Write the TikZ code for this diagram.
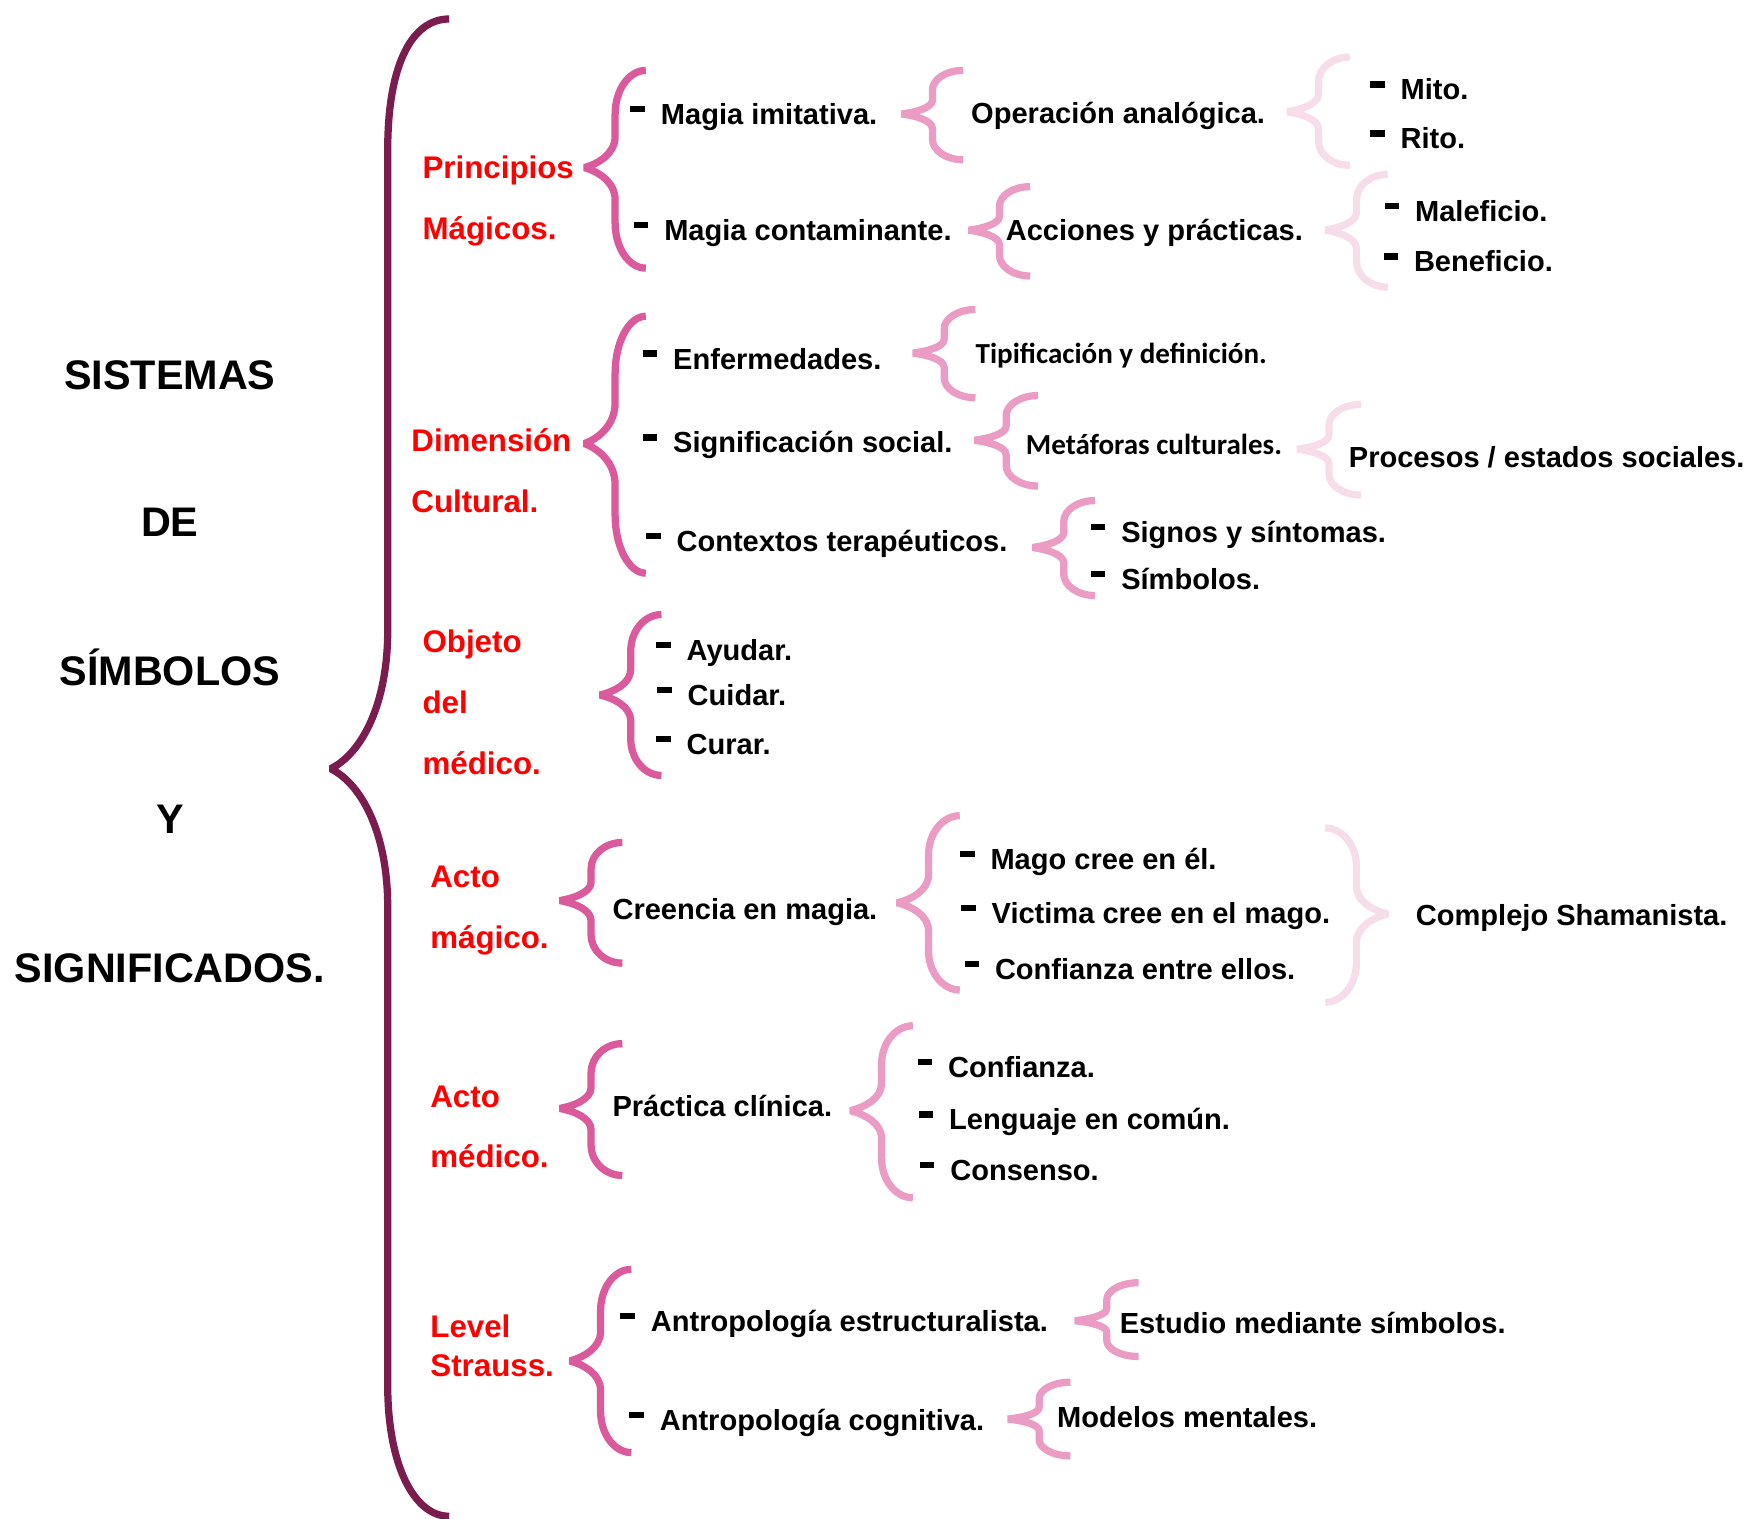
\documentclass[tikz,border=0pt]{standalone}
\usepackage{fontspec}
\setmainfont{Liberation Sans}
\newfontfamily\calibri{Carlito}
\definecolor{llaveppal}{HTML}{7B1C4E}
\definecolor{llaveA}{HTML}{DB5A9B}
\definecolor{llaveB}{HTML}{EA9CC5}
\definecolor{llaveC}{HTML}{F7DDEA}
\definecolor{rojo}{HTML}{FF0000}
\newcommand{\guion}{\rule[0.42em]{0.5em}{0.22em}\hspace{0.55em}}
% llave: color, punta x, punta y, extremo x, arriba y, abajo y
\newcommand{\llave}[6]{%
	\pgfmathsetmacro\bsx{(#2+#4)/2}%
	\pgfmathsetmacro\bhw{(#4-#2)/2}%
	\pgfmathsetmacro\bha{0.45*(#3-#5)}%
	\pgfmathsetmacro\bhb{0.32*(#3-#5)}%
	\pgfmathsetmacro\bla{0.45*(#6-#3)}%
	\pgfmathsetmacro\blb{0.32*(#6-#3)}%
	\draw[#1, line width = 6.5pt, line join = bevel] (#4, #5) .. controls ({#4-0.55*\bhw}, #5) and (\bsx, {#5+0.45*\bha}) .. (\bsx, {#5+\bha})
		-- (\bsx, {#3-\bhb}) .. controls (\bsx, {#3-0.45*\bhb}) and ({#2+0.45*\bhw}, {#3-0.12*\bhb}) .. (#2, #3)
		.. controls ({#2+0.45*\bhw}, {#3+0.12*\blb}) and (\bsx, {#3+0.45*\blb}) .. (\bsx, {#3+\blb})
		-- (\bsx, {#6-\bla}) .. controls (\bsx, {#6-0.45*\bla}) and ({#4-0.55*\bhw}, #6) .. (#4, #6);}

\begin{document}
\begin{tikzpicture}[x = 1pt, y = -1pt,
	titulo/.style = {font = \fontsize{37}{40}\selectfont\bfseries, text height = 26.5pt, text depth = 0pt, inner sep = 0pt},
	rubro/.style = {font = \fontsize{28}{30}\selectfont\bfseries, text = rojo, anchor = west, text height = 20pt, text depth = 0pt, inner sep = 0pt},
	texto/.style = {font = \fontsize{26}{28}\selectfont\bfseries, anchor = west, text height = 18.6pt, text depth = 0pt, inner sep = 0pt},
	calib/.style = {texto, font = \fontsize{26}{28}\selectfont\calibri\bfseries, text height = 17pt}]
	\useasboundingbox (0, 0) rectangle (1568, 1359);
	% llave grande
	\draw[llaveppal, line width = 6.5pt, line join = bevel] (402, 17) .. controls (370, 17) and (347, 55) .. (347, 134) -- (347, 564)
		.. controls (347, 630) and (324, 674) .. (296, 688) .. controls (324, 702) and (347, 746) .. (347, 812)
		-- (347, 1240) .. controls (347, 1310) and (370, 1357) .. (402, 1357);
	% llaves
	\foreach \tx/\ty/\ex/\yt/\yb in {523/150/578/63/240, 523/397/578/283/513, 537/622/592/550/694,
		501/806/557/754/862, 501/992/557/934/1052, 510/1218/565/1136/1300}{
		\llave{llaveA}{\tx}{\ty}{\ex}{\yt}{\yb}}
	\foreach \tx/\ty/\ex/\yt/\yb in {807/102/862/63/143, 867/206/922/167/247, 817/316/873/277/356,
		872/394/929/354/435, 924/490/980/448/533, 803/808/859/730/886, 761/994/817/918/1072,
		962/1182/1019/1148/1214, 902/1270/958/1237/1303}{
		\llave{llaveB}{\tx}{\ty}{\ex}{\yt}{\yb}}
	\foreach \tx/\ty/\ex/\yt/\yb in {1152/100/1208/51/148, 1186/206/1242/156/257, 1161/402/1218/362/443,
		1242/818/1186/741/897}{
		\llave{llaveC}{\tx}{\ty}{\ex}{\yt}{\yb}}
	% titulo
	\foreach \n/\x/\y/\t in {tS/152/335/SISTEMAS, tD/152/467/DE, tSi/152/600/SÍMBOLOS, tY/152/733/Y, tSg/152/866/SIGNIFICADOS.}{
		\node[titulo] (\n) at (\x, \y) {\t};}
	% rubros
	\foreach \n/\x/\y/\t in {pm1/378/150/Principios, pm2/378/204/Mágicos., dc1/368/394/Dimensión, dc2/368/449/Cultural.,
		om1/378/574/Objeto, om2/378/629/del, om3/378/683/médico., am1/385/784/Acto, am2/385/839/mágico.,
		ad1/385/981/Acto, ad2/385/1035/médico., ls1/385/1187/Level, ls2/385/1222/Strauss.}{
		\node[rubro] (\n) at (\x, \y) {\t};}
	% items con guion
	\foreach \n/\x/\y/\t in {i1/564/102/Magia imitativa., i2/567/206/Magia contaminante., i3/575/321/Enfermedades.,
		i4/575/396/Significación social., i5/578/484/Contextos terapéuticos., i6/587/582/Ayudar., i7/588/622/Cuidar.,
		i8/587/666/Curar., i9/555/1182/Antropología estructuralista., i10/563/1271/Antropología cognitiva.,
		j1/976/476/Signos y síntomas., j2/976/518/Símbolos., j3/859/769/Mago cree en él.,
		j4/860/817/Victima cree en el mago., j5/863/867/Confianza entre ellos., j6/821/955/Confianza.,
		j7/822/1002/Lenguaje en común., j8/823/1047/Consenso., k1/1226/80/Mito., k2/1226/124/Rito.,
		k3/1239/189/Maleficio., k4/1238/234/Beneficio.}{
		\node[texto] (\n) at (\x, \y) {\guion\t};}
	% items sin guion
	\foreach \n/\x/\y/\t in {c1/548/814/Creencia en magia., c2/548/990/Práctica clínica., o1/869/101/Operación analógica.,
		o2/900/206/Acciones y prácticas., o5/1002/1184/Estudio mediante símbolos., o6/946/1268/Modelos mentales.,
		o7/1207/409/{Procesos / estados sociales.}, o8/1267/819/Complejo Shamanista.}{
		\node[texto] (\n) at (\x, \y) {\t};}
	\node[calib] (o3) at (873, 317) {Tipificación y definición.};
	\node[calib] (o4) at (918, 398) {Metáforas culturales.};
\end{tikzpicture}
\end{document}
